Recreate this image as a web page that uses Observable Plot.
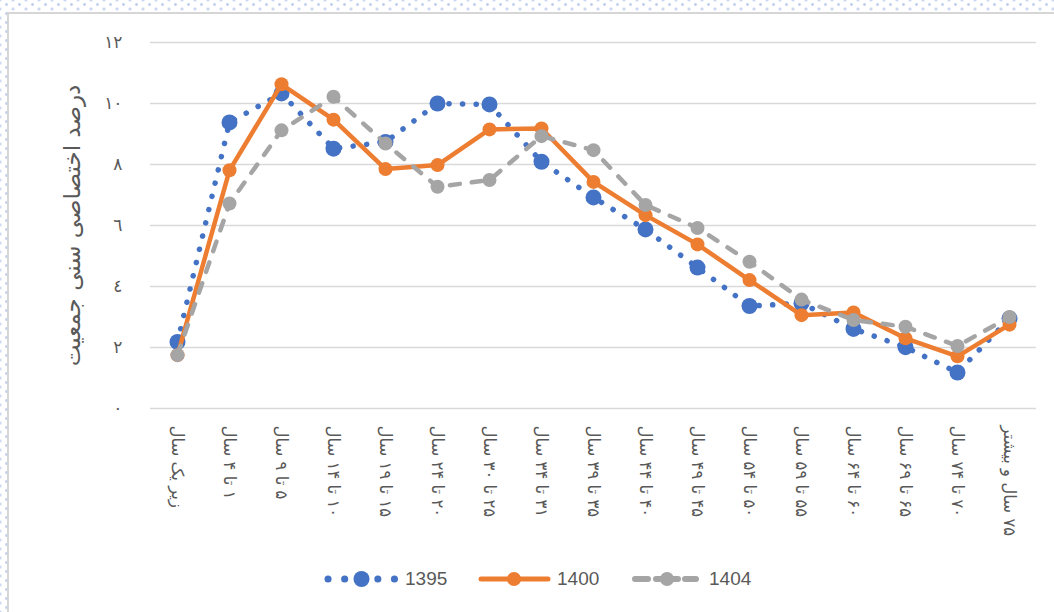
<!DOCTYPE html>
<html>
<head>
<meta charset="utf-8">
<script src="https://cdn.jsdelivr.net/npm/d3@7"></script>
<script src="https://cdn.jsdelivr.net/npm/@observablehq/plot@0.6"></script>
<style>
  html, body { margin: 0; padding: 0; }
  body {
    width: 1054px; height: 612px; overflow: hidden; position: relative;
    background-color: #ffffff;
    background-image:
      radial-gradient(circle, #c3d1ee 1.1px, transparent 1.7px),
      radial-gradient(circle, #c3d1ee 1.1px, transparent 1.7px);
    background-size: 13px 9px, 13px 9px;
    background-position: 0 0, 6.5px 4.5px;
  }
  #panel {
    position: absolute; left: 7px; top: 12px; width: 1060px; height: 620px;
    background: #fff; border: 2px solid #d6d6d6; box-sizing: border-box;
  }
  #chart { position: absolute; left: 0; top: 0; }
  #legend {
    position: absolute; left: 0; top: 564px; width: 1054px; height: 30px;
    font-family: "Liberation Sans", Arial, sans-serif; font-size: 19px; color: #595959;
  }
  #legend svg { position: absolute; top: 0; left: 0; }
  #legend span { position: absolute; top: 4px; }
</style>
</head>
<body>
<div id="panel"></div>
<div id="chart"></div>
<div id="legend"></div>
<script>
const categories = [
  "زیر یک سال",
  "۱ تا ۴ سال",
  "۵ تا ۹ سال",
  "۱۰ تا ۱۴ سال",
  "۱۵ تا ۱۹ سال",
  "۲۰ تا ۲۴ سال",
  "۲۵ تا ۳۰ سال",
  "۳۱ تا ۳۴ سال",
  "۳۵ تا ۳۹ سال",
  "۴۰ تا ۴۴ سال",
  "۴۵ تا ۴۹ سال",
  "۵۰ تا ۵۴ سال",
  "۵۵ تا ۵۹ سال",
  "۶۰ تا ۶۴ سال",
  "۶۵ تا ۶۹ سال",
  "۷۰ تا ۷۴ سال",
  "۷۵ سال و بیشتر"
];
const seriesNames = ["1395", "1400", "1404"];
const v1395 = [2.18, 9.38, 10.33, 8.52, 8.74, 10.0, 9.97, 8.09, 6.92, 5.87, 4.62, 3.36, 3.45, 2.61, 2.01, 1.18, 2.95];
const v1400 = [1.75, 7.81, 10.63, 9.47, 7.85, 7.98, 9.15, 9.18, 7.43, 6.34, 5.38, 4.21, 3.06, 3.15, 2.30, 1.71, 2.75];
const v1404 = [1.75, 6.72, 9.12, 10.22, 8.69, 7.27, 7.49, 8.93, 8.47, 6.67, 5.92, 4.81, 3.57, 2.90, 2.68, 2.05, 3.00];
const yTicks = [0, 2, 4, 6, 8, 10, 12];
const yTickLabels = ["٠", "٢", "٤", "٦", "٨", "١٠", "١٢"];
const yTitle = "درصد اختصاصی سنی جمعیت";

const colors = {"1395": "#4472C4", "1400": "#ED7D31", "1404": "#A5A5A5"};
const toRows = (vals, s) => categories.map((c, i) => ({cat: c, value: vals[i], series: s}));
const d1395 = toRows(v1395, "1395");
const d1400 = toRows(v1400, "1400");
const d1404 = toRows(v1404, "1404");

const chart = Plot.plot({
  width: 1054,
  height: 555,
  marginTop: 42,
  marginBottom: 147,
  marginLeft: 150,
  marginRight: 18,
  style: {background: "transparent", fontFamily: "'DejaVu Sans', sans-serif"},
  x: {type: "point", domain: categories, padding: 0.5, axis: null},
  y: {domain: [0, 12]},
  marks: [
    Plot.gridY(yTicks, {stroke: "#d9d9d9", strokeOpacity: 1, strokeWidth: 1.6}),
    Plot.axisY(yTicks, {
      tickSize: 0, tickPadding: 28, label: null,
      tickFormat: d => yTickLabels[yTicks.indexOf(d)],
      fontSize: 17, fill: "#595959"
    }),
    Plot.text(categories, {
      x: d => d, frameAnchor: "bottom", dy: 17, rotate: 90,
      textAnchor: "start", lineAnchor: "middle",
      text: d => "\u200F" + d, fontSize: 16.5, fill: "#595959"
    }),
    Plot.text([yTitle], {
      frameAnchor: "left", dx: -78, rotate: -90, text: d => d,
      textAnchor: "middle", lineAnchor: "middle", fontSize: 23, fill: "#595959"
    }),
    // 1395
    Plot.line(d1395, {x: "cat", y: "value", stroke: colors["1395"], strokeWidth: 5.5,
      strokeDasharray: "0.1 13.5", strokeLinecap: "round", strokeLinejoin: "round"}),
    Plot.dot(d1395, {x: "cat", y: "value", r: 8, fill: colors["1395"], stroke: "none"}),
    // 1400
    Plot.line(d1400, {x: "cat", y: "value", stroke: colors["1400"], strokeWidth: 4.5, strokeLinejoin: "round"}),
    Plot.dot(d1400, {x: "cat", y: "value", r: 7, fill: colors["1400"], stroke: "none"}),
    // 1404
    Plot.line(d1404, {x: "cat", y: "value", stroke: colors["1404"], strokeWidth: 4.5,
      strokeDasharray: "10 12", strokeLinecap: "round", strokeLinejoin: "round"}),
    Plot.dot(d1404, {x: "cat", y: "value", r: 7, fill: colors["1404"], stroke: "none"})
  ]
});
document.getElementById("chart").appendChild(chart);

// Legend
const legend = document.getElementById("legend");
const ns = "http://www.w3.org/2000/svg";
const lsvg = document.createElementNS(ns, "svg");
lsvg.setAttribute("width", 1054);
lsvg.setAttribute("height", 30);
legend.appendChild(lsvg);
function seg(x1, x2, color, w, dash) {
  const l = document.createElementNS(ns, "line");
  l.setAttribute("x1", x1); l.setAttribute("x2", x2);
  l.setAttribute("y1", 15); l.setAttribute("y2", 15);
  l.setAttribute("stroke", color); l.setAttribute("stroke-width", w);
  l.setAttribute("stroke-linecap", "round");
  if (dash) l.setAttribute("stroke-dasharray", dash);
  lsvg.appendChild(l);
}
function circ(cx, r, color) {
  const c = document.createElementNS(ns, "circle");
  c.setAttribute("cx", cx); c.setAttribute("cy", 15); c.setAttribute("r", r);
  c.setAttribute("fill", color);
  lsvg.appendChild(c);
}
function label(x, t) {
  const sp = document.createElement("span");
  sp.textContent = t;
  sp.style.left = x + "px";
  legend.appendChild(sp);
}
// 1395
seg(328, 395, colors["1395"], 7, "0.1 16.5");
circ(361.5, 8, colors["1395"]);
label(405, seriesNames[0]);
// 1400
seg(481, 548, colors["1400"], 5);
circ(514, 7, colors["1400"]);
label(557, seriesNames[1]);
// 1404
seg(635, 648, colors["1404"], 6);
seg(685, 696, colors["1404"], 6);
seg(656, 678, colors["1404"], 6);
circ(667, 7, colors["1404"]);
label(709, seriesNames[2]);
</script>
</body>
</html>
